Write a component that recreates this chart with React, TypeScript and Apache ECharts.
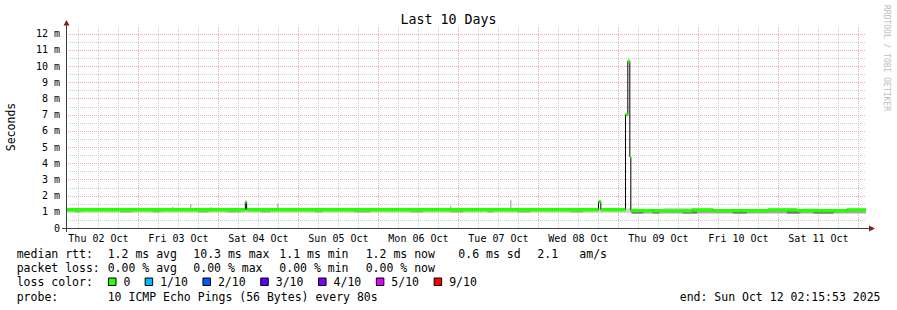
import { useEffect, useRef } from 'react';
import * as echarts from 'echarts';

// ---------- data ----------
const TITLE = 'Last 10 Days';
const Y_NAME = 'Seconds';
const WATERMARK = 'RRDTOOL / TOBI OETIKER';
const START_HOUR_OF_DAY = 2 + 15 / 60 + 53 / 3600; // start: Thu 02 Oct 02:15:53
const SPAN_HOURS = 240; // 10 days
const Y_MAX = 12.47;

const dayLabels = [
  'Thu 02 Oct', 'Fri 03 Oct', 'Sat 04 Oct', 'Sun 05 Oct', 'Mon 06 Oct',
  'Tue 07 Oct', 'Wed 08 Oct', 'Thu 09 Oct', 'Fri 10 Oct', 'Sat 11 Oct',
];
const yTickValues = [0, 1, 2, 3, 4, 5, 6, 7, 8, 9, 10, 11, 12];

// median rtt (ms) as steps: [hours since start, value]
const medianSteps: [number, number][] = [
  [0, 1.13], [53.8, 1.6], [54.2, 1.13], [159.75, 1.62], [160.45, 1.13],
  [167.85, 7.0], [168.55, 10.3], [169.15, 4.4], [169.45, 1.08],
  [176.0, 1.06], [187.9, 1.12], [194.2, 1.07], [210.6, 1.12], [219.3, 1.07],
  [234.2, 1.12],
];

// smoke bands: [h0, h1, low ms, high ms, shade level]
const smokeBands: [number, number, number, number, number][] = [
  [0, 169.45, 0.95, 1.22, 0],
  [2.8, 4.3, 0.96, 1.1, 1], [16.3, 19.9, 0.96, 1.1, 1], [26.2, 28.3, 0.96, 1.1, 1],
  [39.7, 42.7, 0.96, 1.1, 1], [48.4, 52.3, 0.96, 1.1, 1], [58.3, 61.3, 0.96, 1.1, 1],
  [74.8, 76.9, 0.96, 1.1, 1], [86.3, 91.3, 0.96, 1.1, 1], [103.3, 107.2, 0.96, 1.1, 1],
  [115.3, 119.2, 0.96, 1.1, 1], [126.4, 128.2, 0.96, 1.1, 1], [135.4, 139.3, 0.96, 1.1, 1],
  [151.3, 155.2, 0.96, 1.1, 1],
  [169.45, 240, 0.89, 1.18, 1],
  [169.8, 173.2, 0.89, 1.05, 2], [176.0, 178.0, 0.89, 1.05, 2], [185.0, 189.3, 0.89, 1.05, 2],
  [200.0, 204.3, 0.89, 1.05, 2], [216.3, 220.3, 0.89, 1.05, 2], [224.3, 230.3, 0.89, 1.05, 2],
  [179.2, 188.2, 1.1, 1.24, 0], [221.0, 226.0, 1.1, 1.22, 0],
];

// isolated smoke spikes: [hours since start, top ms]
const smokeSpikes: [number, number][] = [
  [31.8, 1.3], [37.05, 1.48], [43.3, 1.3], [63.4, 1.5], [115.3, 1.38], [133.3, 1.75],
];

const statsRtt = ['median rtt:', '1.2 ms avg', '10.3 ms max', '1.1 ms min', '1.2 ms now', '0.6 ms sd', '2.1', 'am/s'];
const statsLoss = ['packet loss:', '0.00 % avg', '0.00 % max', '0.00 % min', '0.00 % now'];
const lossLabels = ['0', '1/10', '2/10', '3/10', '4/10', '5/10', '9/10'];
const lossColors = ['#26ff00', '#00b8ff', '#0059ff', '#5e00ff', '#7e00ff', '#dd00ff', '#ff0000'];
const probeText = ['probe:', '10 ICMP Echo Pings (56 Bytes) every 80s'];
const endText = 'end: Sun Oct 12 02:15:53 2025';

// ---------- layout / style ----------
const W = 897;
const H = 310;
const GL = 66;
const GT = 26;
const GW = 800;
const GH = 202;
const MONO = '"DejaVu Sans Mono", monospace';
const SHADES = ['#d2d2d2', '#a8a8a8', '#747474'];
const AXIS_COLOR = '#3a4440';
const ARROW_COLOR = '#7f1f1f';
const MAJOR_GRID = '#f5a3a3';
const MINOR_GRID = '#cdcdcd';

export default function App() {
  const ref = useRef<HTMLDivElement>(null);

  useEffect(() => {
    document.body.style.margin = '0';
    if (!ref.current) return;
    const chart = echarts.init(ref.current, undefined, { renderer: 'svg' });

    // grid lines
    const vGrid: [number, number][] = [];
    for (let k = 1; k * 6 - START_HOUR_OF_DAY < SPAN_HOURS; k++) {
      const h = k * 6 - START_HOUR_OF_DAY;
      if (h <= 0) continue;
      vGrid.push([h, k % 4 === 0 ? 1 : 0]);
    }
    const hGrid: [number, number][] = [];
    for (let v = 0.5; v <= Y_MAX; v += 0.5) hGrid.push([v, Number.isInteger(v) ? 1 : 0]);

    const greenBand = medianSteps.map((s, i) => [
      s[0],
      i + 1 < medianSteps.length ? medianSteps[i + 1][0] : SPAN_HOURS,
      s[1],
    ]);
    const medianLine = [...medianSteps.map((s) => [s[0], s[1]]), [SPAN_HOURS, medianSteps[medianSteps.length - 1][1]]];

    const crisp = (x: number) => Math.round(x) + 0.5;

    const textEl = (text: string, x: number, y: number, size: number, align = 'left', fill = '#000') => ({
      type: 'text',
      x,
      y,
      style: {
        text,
        x: 0,
        y: 0,
        font: `${size}px ${MONO}`,
        fill,
        align,
        verticalAlign: 'middle',
        textAlign: align,
        textVerticalAlign: 'middle',
      },
    });

    const rttX = [16.7, 107.7, 193.3, 279.3, 365.7, 458.3, 537.3, 579.3];
    const lossX = [16.7, 107.7, 193.3, 279.3, 365.7];
    const graphics: any[] = [];
    statsRtt.forEach((t, i) => graphics.push(textEl(t, rttX[i], 254, 11.5)));
    statsLoss.forEach((t, i) => graphics.push(textEl(t, lossX[i], 268.3, 11.5)));
    graphics.push(textEl('loss color:', 16.7, 282.3, 11.5));
    let sx = 108.5;
    lossLabels.forEach((lab, i) => {
      graphics.push({
        type: 'rect',
        shape: { x: sx, y: 278, width: 7.5, height: 7.5 },
        style: { fill: lossColors[i], stroke: '#000', lineWidth: 1 },
      });
      graphics.push(textEl(lab, sx + 15, 282.3, 11.5));
      sx = sx + 15 + lab.length * 7.05 + 14.6;
    });
    graphics.push(textEl(probeText[0], 16.7, 296.7, 11.5));
    graphics.push(textEl(probeText[1], 107.7, 296.7, 11.5));
    graphics.push(textEl(endText, 880.5, 296.7, 11.5, 'right'));
    graphics.push(textEl(TITLE, W / 2, 19.4, 13.3, 'center'));
    graphics.push({
      type: 'text',
      x: 11,
      y: 127,
      rotation: Math.PI / 2,
      style: {
        text: Y_NAME, x: 0, y: 0, font: `11.5px ${MONO}`, fill: '#000',
        align: 'center', verticalAlign: 'middle', textAlign: 'center', textVerticalAlign: 'middle',
      },
    });
    graphics.push({
      type: 'text',
      x: 886,
      y: 5,
      rotation: -Math.PI / 2,
      style: {
        text: WATERMARK, x: 0, y: 0, font: `8px ${MONO}`, fill: '#bdbdbd',
        align: 'left', verticalAlign: 'middle', textAlign: 'left', textVerticalAlign: 'middle',
      },
    });
    // axis lines & arrows
    graphics.push({
      type: 'line', z: 10,
      shape: { x1: GL - 4, y1: GT + GH + 0.5, x2: GL + GW + 3, y2: GT + GH + 0.5 },
      style: { stroke: AXIS_COLOR, lineWidth: 1 },
    });
    graphics.push({
      type: 'line', z: 10,
      shape: { x1: GL + 0.5, y1: GT + GH + 4, x2: GL + 0.5, y2: GT - 1 },
      style: { stroke: AXIS_COLOR, lineWidth: 1 },
    });
    graphics.push({
      type: 'polygon', z: 10,
      shape: { points: [[GL + 0.5, GT - 6], [GL - 2.5, GT - 0.5], [GL + 3.5, GT - 0.5]] },
      style: { fill: ARROW_COLOR },
    });
    graphics.push({
      type: 'polygon', z: 10,
      shape: { points: [[GL + GW + 9, GT + GH + 0.5], [GL + GW + 3, GT + GH - 2.5], [GL + GW + 3, GT + GH + 3.5]] },
      style: { fill: ARROW_COLOR },
    });

    const option: any = {
      animation: false,
      backgroundColor: '#fff',
      grid: { left: GL, top: GT, width: GW, height: GH, containLabel: false, outerBoundsMode: 'none' },
      xAxis: {
        type: 'value',
        min: 0,
        max: SPAN_HOURS,
        axisLine: { show: false },
        axisTick: { show: false },
        splitLine: { show: false },
        axisLabel: {
          customValues: dayLabels.map((_, i) => i * 24 + 12 - START_HOUR_OF_DAY),
          formatter: (v: number) => dayLabels[Math.round((v + START_HOUR_OF_DAY - 12) / 24)] ?? '',
          fontFamily: MONO,
          fontSize: 10,
          color: '#000',
          margin: 5,
          showMinLabel: true,
          showMaxLabel: true,
        },
      },
      yAxis: {
        type: 'value',
        min: 0,
        max: Y_MAX,
        axisLine: { show: false },
        axisTick: { show: false },
        splitLine: { show: false },
        axisLabel: {
          customValues: yTickValues,
          formatter: (v: number) => (v === 0 ? '0' : `${v} m`),
          fontFamily: MONO,
          fontSize: 10,
          color: '#000',
          margin: 6,
        },
      },
      graphic: graphics,
      series: [
        {
          type: 'custom',
          name: 'vgrid',
          z: 1,
          silent: true,
          data: vGrid,
          renderItem: (_p: any, api: any) => {
            const h = api.value(0);
            const major = api.value(1);
            const p0 = api.coord([h, 0]);
            const p1 = api.coord([h, Y_MAX]);
            const x = crisp(p0[0]);
            return {
              type: 'line',
              shape: { x1: x, y1: p0[1], x2: x, y2: p1[1] },
              style: { stroke: major ? MAJOR_GRID : MINOR_GRID, lineWidth: 1, lineDash: [1, 1] },
            };
          },
        },
        {
          type: 'custom',
          name: 'hgrid',
          z: 1,
          silent: true,
          data: hGrid,
          encode: { y: 0 },
          renderItem: (_p: any, api: any) => {
            const v = api.value(0);
            const major = api.value(1);
            const p0 = api.coord([0, v]);
            const p1 = api.coord([SPAN_HOURS, v]);
            const y = crisp(p0[1]);
            return {
              type: 'line',
              shape: { x1: p0[0], y1: y, x2: p1[0], y2: y },
              style: { stroke: major ? MAJOR_GRID : MINOR_GRID, lineWidth: 1, lineDash: [1, 1] },
            };
          },
        },
        {
          type: 'custom',
          name: 'smoke',
          z: 2,
          silent: true,
          clip: true,
          data: smokeBands,
          encode: { x: [0, 1], y: [2, 3] },
          renderItem: (_p: any, api: any) => {
            const a = api.coord([api.value(0), api.value(3)]);
            const b = api.coord([api.value(1), api.value(2)]);
            return {
              type: 'rect',
              shape: { x: a[0], y: a[1], width: b[0] - a[0], height: b[1] - a[1] },
              style: { fill: SHADES[api.value(4)] },
            };
          },
        },
        {
          type: 'custom',
          name: 'smokeSpikes',
          z: 2,
          silent: true,
          clip: true,
          data: smokeSpikes,
          renderItem: (_p: any, api: any) => {
            const a = api.coord([api.value(0), api.value(1)]);
            const b = api.coord([api.value(0), 1.1]);
            return {
              type: 'rect',
              shape: { x: Math.round(a[0]), y: a[1], width: 1.5, height: b[1] - a[1] },
              style: { fill: '#b8b8b8' },
            };
          },
        },
        {
          type: 'line',
          name: 'median',
          z: 3,
          silent: true,
          step: 'end',
          showSymbol: false,
          data: medianLine,
          lineStyle: { color: '#000', width: 1 },
        },
        {
          type: 'custom',
          name: 'medianLoss',
          z: 4,
          silent: true,
          clip: true,
          data: greenBand,
          encode: { x: [0, 1], y: 2 },
          renderItem: (_p: any, api: any) => {
            const a = api.coord([api.value(0), api.value(2)]);
            const b = api.coord([api.value(1), api.value(2)]);
            return {
              type: 'rect',
              shape: { x: a[0], y: a[1] - 1.7, width: b[0] - a[0], height: 3.4 },
              style: { fill: lossColors[0] },
            };
          },
        },
      ],
    };
    chart.setOption(option);
    return () => chart.dispose();
  }, []);

  return <div ref={ref} style={{ width: W, height: H }} />;
}
